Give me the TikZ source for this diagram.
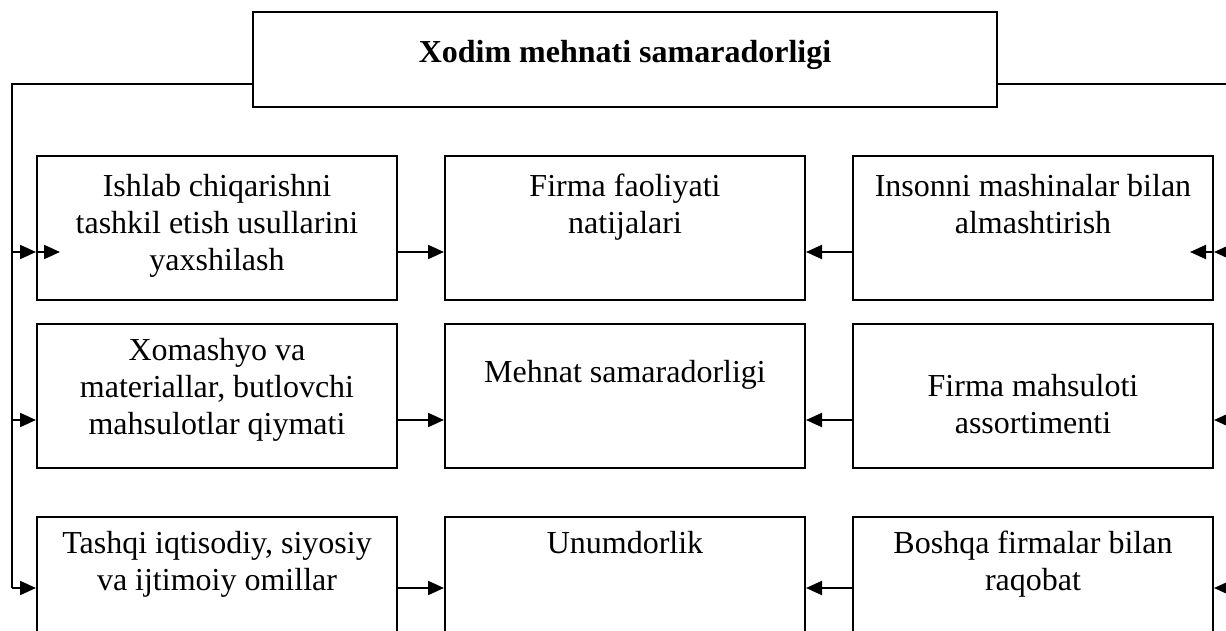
\documentclass[tikz,border=0pt]{standalone}
\usepackage{fontspec}
\setmainfont{Liberation Serif}
\usetikzlibrary{arrows.meta}
\begin{document}
\begin{tikzpicture}[x=0.5pt,y=-0.5pt,
  box/.style={draw,line width=1pt,minimum width=180pt,minimum height=72pt,inner sep=0pt},
  topbox/.style={draw,line width=1pt,minimum width=372pt,minimum height=47.5pt,inner sep=0pt},
  txt/.style={anchor=north,align=center,inner sep=0pt,font=\fontsize{16}{18.5}\selectfont},
  ttl/.style={anchor=north,align=center,inner sep=0pt,font=\fontsize{16}{18.5}\selectfont\bfseries},
  conn/.style={line width=1pt},
  arr/.style={line width=1pt,-{Triangle[length=8pt,width=7pt]}}]
\useasboundingbox (0,0) rectangle (1226,631);
% boxes
\node[topbox] (top) at (625,59.5) {};
\node[box] (l1) at (217,228) {};
\node[box] (m1) at (625,228) {};
\node[box] (r1) at (1033,228) {};
\node[box] (l2) at (217,396) {};
\node[box] (m2) at (625,396) {};
\node[box] (r2) at (1033,396) {};
\node[box] (l3) at (217,589) {};
\node[box] (m3) at (625,589) {};
\node[box] (r3) at (1033,589) {};
% texts
\node[ttl] (topt) at (625,40) {Xodim mehnati samaradorligi};
\node[txt] (l1t) at (217,174) {Ishlab chiqarishni\\tashkil etish usullarini\\yaxshilash};
\node[txt] (m1t) at (625,174) {Firma faoliyati\\natijalari};
\node[txt] (r1t) at (1033,174) {Insonni mashinalar bilan\\almashtirish};
\node[txt] (l2t) at (217,338) {Xomashyo va\\materiallar, butlovchi\\mahsulotlar qiymati};
\node[txt] (m2t) at (625,360) {Mehnat samaradorligi};
\node[txt] (r2t) at (1033,374) {Firma mahsuloti\\assortimenti};
\node[txt] (l3t) at (217,531) {Tashqi iqtisodiy, siyosiy\\va ijtimoiy omillar};
\node[txt] (m3t) at (625,531) {Unumdorlik};
\node[txt] (r3t) at (1033,531) {Boshqa firmalar bilan\\raqobat};
% bus coordinates
\coordinate (busTL) at (12,84);
\coordinate (bl1) at (12,252);
\coordinate (bl2) at (12,420);
\coordinate (bl3) at (12,588);
\coordinate (busTR) at (1229,84);
\coordinate (br1) at (1229,252);
\coordinate (br2) at (1229,420);
\coordinate (br3) at (1229,588);
\coordinate (in1) at (60,252);
\coordinate (in2) at (1190,252);
% buses
\draw[conn] (busTL -| top.west) -- (busTL) -- (bl3);
\draw[conn] (busTR -| top.east) -- (busTR) -- (br3);
% left bus arrows
\draw[arr] (bl1) -- (bl1 -| l1.west);
\draw[arr] (bl1 -| l1.west) -- (in1);
\draw[arr] (bl2) -- (bl2 -| l2.west);
\draw[arr] (bl3) -- (bl3 -| l3.west);
% right bus arrows
\draw[arr] (br1) -- (br1 -| r1.east);
\draw[arr] (br1 -| r1.east) -- (in2);
\draw[arr] (br2) -- (br2 -| r2.east);
\draw[arr] (br3) -- (br3 -| r3.east);
% left to middle
\draw[arr] (bl1 -| l1.east) -- (bl1 -| m1.west);
\draw[arr] (bl2 -| l2.east) -- (bl2 -| m2.west);
\draw[arr] (bl3 -| l3.east) -- (bl3 -| m3.west);
% right to middle
\draw[arr] (br1 -| r1.west) -- (br1 -| m1.east);
\draw[arr] (br2 -| r2.west) -- (br2 -| m2.east);
\draw[arr] (br3 -| r3.west) -- (br3 -| m3.east);
\end{tikzpicture}
\end{document}
